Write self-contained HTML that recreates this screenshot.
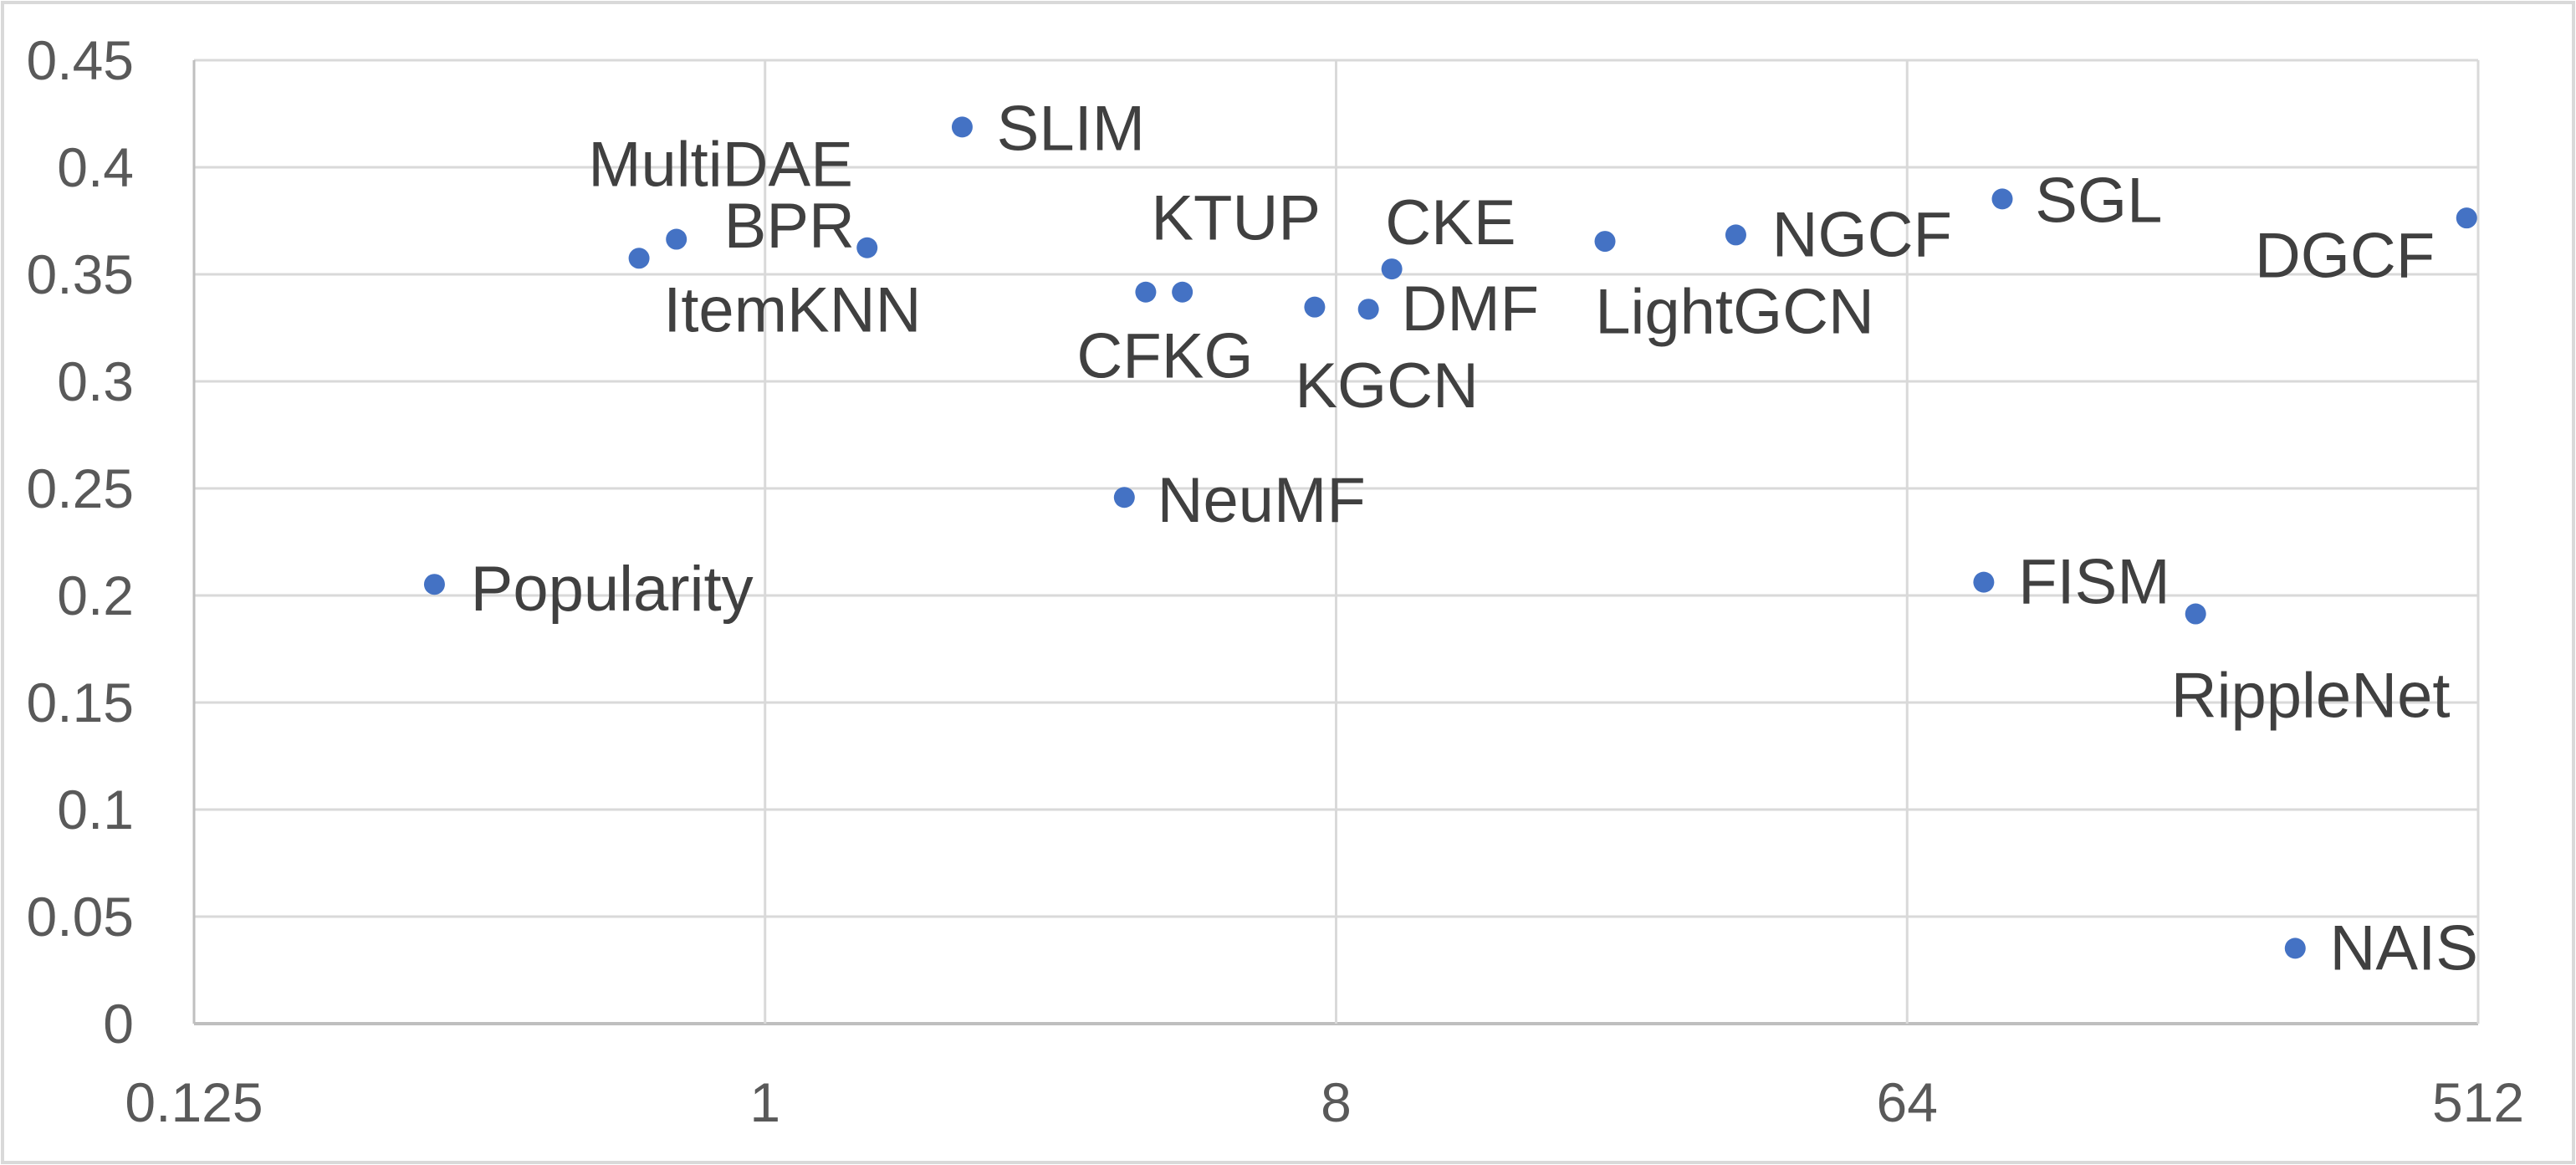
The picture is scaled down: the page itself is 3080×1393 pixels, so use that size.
<!DOCTYPE html>
<html><head><meta charset="utf-8"><style>
html,body{margin:0;padding:0;background:#fff;}
svg{display:block;font-family:"Liberation Sans",sans-serif;}
</style></head><body>
<svg id="chart" width="3080" height="1393" viewBox="0 0 3080 1393">
<rect x="3" y="3" width="3074" height="1387" fill="#fff" stroke="#d9d9d9" stroke-width="4"/>
<g id="grid"></g>
<g id="ticks"></g>
<g id="pts"></g>
</svg>
<script>
const names = ["Popularity","MultiDAE","BPR","ItemKNN","SLIM","CFKG","KTUP","NeuMF","KGCN","DMF","CKE","LightGCN","NGCF","SGL","FISM","RippleNet","NAIS","DGCF"];
const xVals = [0.300,0.632,0.724,1.45,2.05,4.0,4.57,3.70,7.4,9.0,9.8,21.3,34.3,90.5,84.6,183,263,491];
const yVals = [0.2052,0.3575,0.3664,0.3624,0.4188,0.3417,0.3417,0.2458,0.3347,0.3337,0.3525,0.3654,0.3684,0.3852,0.2062,0.1914,0.0352,0.3763];
const xTicks = [0.125,1,8,64,512];
const xTickLabels = ["0.125","1","8","64","512"];
const yTicks = [0,0.05,0.1,0.15,0.2,0.25,0.3,0.35,0.4,0.45];
const yTickLabels = ["0","0.05","0.1","0.15","0.2","0.25","0.3","0.35","0.4","0.45"];
// label offsets (pixels, relative to point) – layout only
const lblDx = [22,-31,29,-124,21,-42,-19,20,-12,20,-4,-6,22,20,21,-15,21,-129];
const lblDy = [3,-57,-8,38,1,39,-45,2,48,0,-28,43,0,1,0,50,0,23];
const S = 1.964;
const X0=232, X1=2963, Y0=1224, Y1=72;
const lx0=Math.log2(0.125), lx1=Math.log2(512);
function sx(v){return X0+(Math.log2(v)-lx0)/(lx1-lx0)*(X1-X0);}
function sy(v){return Y0-(v/0.45)*(Y0-Y1);}
const NS="http://www.w3.org/2000/svg";
function mk(tag,attrs,parent){const e=document.createElementNS(NS,tag);for(const k in attrs)e.setAttribute(k,attrs[k]);parent.appendChild(e);return e;}
const grid=document.getElementById('grid'), ticks=document.getElementById('ticks'), pts=document.getElementById('pts');
yTicks.forEach((v,i)=>{
  const l=mk('line',{x1:X0,x2:X1,y1:sy(v),y2:sy(v),stroke:v===0?'#bfbfbf':'#d9d9d9','stroke-width':v===0?4:3},grid);
  
  
  const t=mk('text',{x:X0-72,y:sy(v),'text-anchor':'end','dominant-baseline':'central','font-size':66,fill:'#595959'},ticks);
  t.textContent=yTickLabels[i];
  
  
});
xTicks.forEach((v,i)=>{
  const l=mk('line',{x1:sx(v),x2:sx(v),y1:Y1,y2:Y0,stroke:i===0?'#bfbfbf':'#d9d9d9','stroke-width':3},grid);
  
  
  const t=mk('text',{x:sx(v),y:1318,'text-anchor':'middle','dominant-baseline':'central','font-size':66,fill:'#595959'},ticks);
  t.textContent=xTickLabels[i];
  
  
});
names.forEach((n,i)=>{
  const cx=sx(xVals[i]), cy=sy(yVals[i]);
  const c=mk('circle',{cx:cx,cy:cy,r:12.5,fill:'#4472C4'},pts);
  
  
  const t=mk('text',{x:cx+lblDx[i]*S,y:cy+lblDy[i]*S,'dominant-baseline':'central','font-size':76,fill:'#404040'},pts);
  t.textContent=n;
  
  
});
</script>
</body></html>
